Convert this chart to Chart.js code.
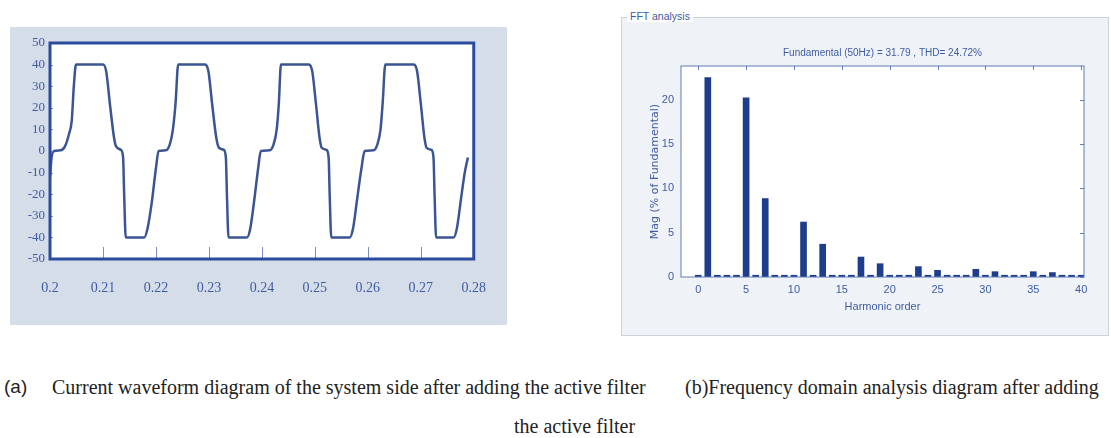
<!DOCTYPE html>
<html>
<head>
<meta charset="utf-8">
<script src="https://cdn.jsdelivr.net/npm/chart.js@4.4.1/dist/chart.umd.min.js"></script>
<style>
  body { margin: 0; background: #fff; width: 1111px; height: 438px; position: relative; overflow: hidden; }
  #panelA { position: absolute; left: 10px; top: 27px; width: 497px; height: 298px; background: #d5dde9; }
  #panelB { position: absolute; left: 621px; top: 17px; width: 486px; height: 317px; background: #eff2f7; border: 1px solid #cdd2da; }
  #legendB { position: absolute; left: 627px; top: 10px; padding: 0 3px; background: #fff; color: #3d5ba3;
    font: 10.5px "Liberation Sans", sans-serif; }
  canvas { position: absolute; left: 0; top: 0; }
  .cap { position: absolute; white-space: nowrap; font-family: "Liberation Serif", serif; font-size: 20px; color: #222; }
  .sans { font-family: "Liberation Sans", sans-serif; }
</style>
</head>
<body>
<div id="panelA"><canvas id="waveChart" width="497" height="298"></canvas></div>
<div id="panelB"><canvas id="fftChart" width="486" height="317"></canvas></div>
<div id="legendB">FFT analysis</div>

<div class="cap sans" style="left:4px; top:376px; font-size:19px;">(a)</div>
<div class="cap" style="left:52px; top:376px;">Current waveform diagram of the system side after adding the active filter</div>
<div class="cap" style="left:685px; top:376px;">(b)Frequency domain analysis diagram after adding</div>
<div class="cap" style="left:514px; top:415px;">the active filter</div>

<script>
// (a) current on the system side
const waveT = [
  0.2000, 0.2003, 0.2008, 0.2020, 0.2028, 0.2036, 0.2041, 0.2045, 0.2049,
  0.2100, 0.2106, 0.2113, 0.2121, 0.2125, 0.2134, 0.2138, 0.2140, 0.2143,
  0.2178, 0.2184, 0.2192, 0.2200, 0.2205, 0.2218, 0.2226, 0.2232, 0.2237, 0.2242,
  0.2292, 0.2299, 0.2306, 0.2314, 0.2319, 0.2328, 0.2332, 0.2334, 0.2337,
  0.2372, 0.2378, 0.2386, 0.2393, 0.2398, 0.2414, 0.2422, 0.2428, 0.2432, 0.2436,
  0.2488, 0.2495, 0.2502, 0.2509, 0.2513, 0.2522, 0.2526, 0.2528, 0.2531,
  0.2566, 0.2572, 0.2580, 0.2588, 0.2594, 0.2610, 0.2618, 0.2624, 0.2628, 0.2633,
  0.2686, 0.2693, 0.2700, 0.2707, 0.2711, 0.2720, 0.2724, 0.2726, 0.2729,
  0.2762, 0.2768, 0.2776, 0.2783, 0.2789
];
const waveI = [
  -12, -3, 0, 0.3, 2, 8, 14, 30, 40,
  40, 37, 22, 6, 2, 0.5, -3, -20, -40,
  -40, -36, -24, -8, 0, 0.3, 3, 10, 22, 40,
  40, 37, 22, 6, 1.5, 0.5, -3, -20, -40,
  -40, -36, -22, -8, 0, 0.3, 3, 10, 22, 40,
  40, 37, 22, 6, 1.5, 0.5, -3, -20, -40,
  -40, -36, -22, -8, 0, 0.3, 3, 10, 22, 40,
  40, 37, 22, 6, 1.5, 0.5, -3, -20, -40,
  -40, -36, -22, -10, -3
];

// (b) harmonic spectrum, % of fundamental
const harmonicOrder = [];
for (let h = 0; h <= 40; h++) harmonicOrder.push(h);
const harmonicMag = [
  0.2, 22.5, 0.2, 0.2, 0.2, 20.2, 0.2, 8.85, 0.2, 0.2,
  0.2, 6.2, 0.2, 3.7, 0.2, 0.2, 0.2, 2.25, 0.2, 1.5,
  0.2, 0.2, 0.2, 1.17, 0.2, 0.75, 0.2, 0.2, 0.2, 0.87,
  0.2, 0.6, 0.2, 0.2, 0.2, 0.6, 0.2, 0.5, 0.2, 0.2, 0.2
];

const waveYTicks = [-50, 50, 10];   // min, max, step
const fftTitle = 'Fundamental (50Hz) = 31.79 , THD= 24.72%';

const blueText = '#3f5ca5';
const sans = '"Liberation Sans", sans-serif';

// white plot area, box and inward ticks
const frame = {
  id: 'frame',
  beforeDraw(chart, args, o) {
    const a = chart.chartArea, ctx = chart.ctx;
    ctx.save();
    ctx.fillStyle = '#fff';
    ctx.fillRect(a.left, a.top, a.right - a.left, a.bottom - a.top);
    ctx.restore();
  },
  afterDraw(chart, args, o) {
    const a = chart.chartArea, ctx = chart.ctx;
    const xs = chart.scales.x, ys = chart.scales.y;
    ctx.save();
    ctx.strokeStyle = o.tickColor;
    ctx.lineWidth = 1;
    ctx.beginPath();
    xs.ticks.forEach(t => {
      const px = Math.round(xs.getPixelForValue(t.value)) + 0.5;
      if (o.bottomLen) { ctx.moveTo(px, a.bottom); ctx.lineTo(px, a.bottom - o.bottomLen); }
      if (o.topLen) { ctx.moveTo(px, a.top); ctx.lineTo(px, a.top + o.topLen); }
    });
    ys.ticks.forEach(t => {
      const py = Math.round(ys.getPixelForValue(t.value)) + 0.5;
      if (o.leftLen) { ctx.moveTo(a.left, py); ctx.lineTo(a.left + o.leftLen, py); }
      if (o.rightLen) { ctx.moveTo(a.right, py); ctx.lineTo(a.right - o.rightLen, py); }
    });
    ctx.stroke();
    ctx.strokeStyle = o.color;
    ctx.lineWidth = o.width;
    ctx.strokeRect(a.left, a.top, a.right - a.left, a.bottom - a.top);
    ctx.restore();
  }
};

new Chart(document.getElementById('waveChart'), {
  type: 'line',
  data: {
    datasets: [{
      data: waveT.map((t, i) => ({ x: t, y: waveI[i] })),
      borderColor: '#3b5592',
      borderWidth: 2.5,
      pointRadius: 0,
      cubicInterpolationMode: 'monotone',
      fill: false
    }]
  },
  options: {
    responsive: false,
    animation: false,
    layout: { padding: { left: 0, right: 20, top: 16, bottom: 0 } },
    plugins: {
      legend: { display: false },
      tooltip: { enabled: false },
      frame: { color: '#2b4c9d', width: 3, tickColor: '#7d8fc0', bottomLen: 12, leftLen: 3 }
    },
    scales: {
      x: {
        type: 'linear',
        min: 0.2, max: 0.28,
        grid: { display: false, drawTicks: false },
        border: { display: false },
        ticks: {
          stepSize: 0.01,
          padding: 21,
          color: blueText,
          font: { family: '"Liberation Serif", serif', size: 14 },
          callback: v => String(+v.toFixed(2))
        },
        afterFit: s => { s.height = 66; }
      },
      y: {
        min: waveYTicks[0], max: waveYTicks[1],
        grid: { display: false, drawTicks: false },
        border: { display: false },
        ticks: {
          stepSize: waveYTicks[2],
          padding: 5,
          color: blueText,
          font: { family: '"Liberation Serif", serif', size: 13 }
        },
        afterFit: s => { s.width = 40; }
      }
    }
  },
  plugins: [frame]
});

new Chart(document.getElementById('fftChart'), {
  type: 'bar',
  data: {
    datasets: [{
      data: harmonicOrder.map((h, i) => ({ x: h, y: harmonicMag[i] })),
      backgroundColor: '#1f3d8d',
      barThickness: 6
    }]
  },
  options: {
    responsive: false,
    animation: false,
    layout: { padding: { left: 0, right: 24, top: 0, bottom: 0 } },
    plugins: {
      legend: { display: false },
      tooltip: { enabled: false },
      title: {
        display: true,
        text: fftTitle,
        fullSize: false,
        color: blueText,
        font: { family: sans, size: 10, weight: 'normal' },
        padding: { top: 29, bottom: 7 }
      },
      frame: { color: '#5f7cb6', width: 1, tickColor: '#5f7cb6', topLen: 4, rightLen: 4, bottomLen: 0, leftLen: 0 }
    },
    scales: {
      x: {
        type: 'linear',
        min: -1.8, max: 40.3,
        offset: false,
        grid: { display: false, drawTicks: false },
        border: { display: false },
        ticks: { stepSize: 5, includeBounds: false, padding: 6, color: blueText, font: { family: sans, size: 11 } },
        title: { display: true, text: 'Harmonic order', color: blueText, font: { family: sans, size: 11 }, padding: { top: 0, bottom: 21 } },
        afterFit: s => { s.height = 58; }
      },
      y: {
        min: 0, max: 23.8,
        grid: { display: false, drawTicks: false },
        border: { display: false },
        ticks: { stepSize: 5, includeBounds: false, padding: 7, color: blueText, font: { family: sans, size: 11 } },
        title: { display: true, text: 'Mag (% of Fundamental)', color: blueText, font: { family: '"DejaVu Sans", sans-serif', size: 11 }, padding: { top: 27, bottom: 0 } },
        afterFit: s => { s.width = 59; }
      }
    }
  },
  plugins: [frame]
});
</script>
</body>
</html>
